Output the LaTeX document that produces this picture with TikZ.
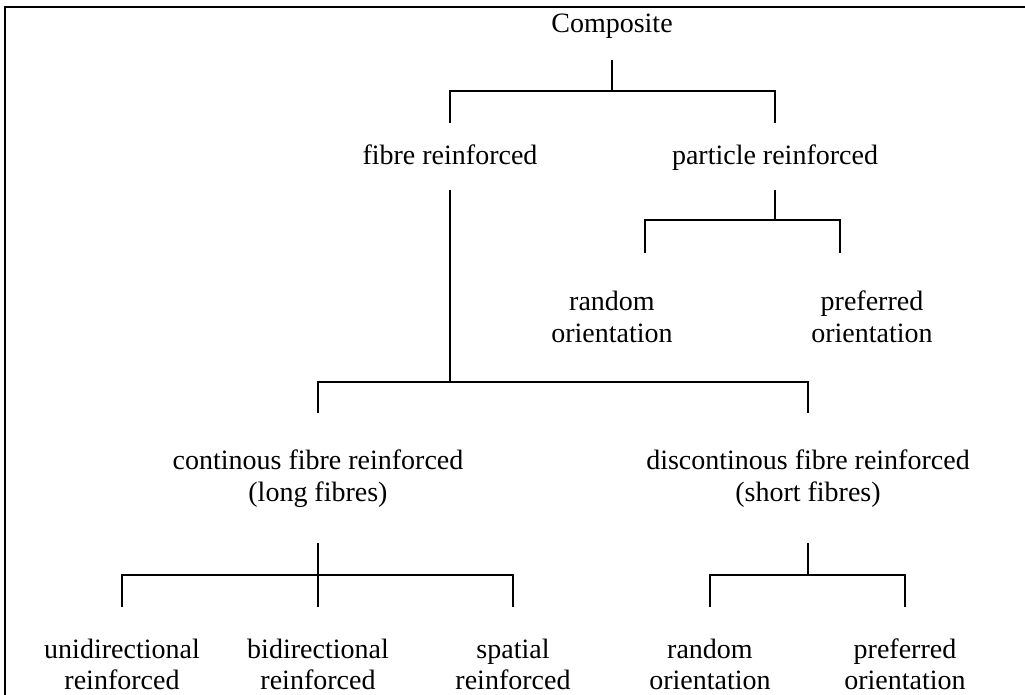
\documentclass[tikz,border=0pt]{standalone}
\usepackage{fontspec}
\setmainfont{Liberation Serif}
\usetikzlibrary{calc}
\begin{document}
\begin{tikzpicture}[x=0.5pt,y=-0.5pt,
  lbl/.style={inner sep=0pt,outer sep=0pt,anchor=base,align=center,
    font=\fontsize{14pt}{16pt}\selectfont},
  conn/.style={line width=0.65pt},
  frame/.style={line width=1pt}]
\useasboundingbox (0,0) rectangle (1025,695);
\fill[white] (-10,-10) rectangle (1035,705);
% frame (top and left edges)
\draw[frame] (5,705) -- (5,6.7) -- (1035,6.7);
% nodes (base anchor = baseline of the last line)
\node[lbl] (comp)     at (612,33)  {Composite};
\node[lbl] (fibre)    at (450,165) {fibre reinforced};
\node[lbl] (particle) at (775,165) {particle reinforced};
\node[lbl] (rand1)    at (612,343) {random\\orientation};
\node[lbl] (pref1)    at (872,343) {preferred\\orientation};
\node[lbl] (cont)     at (318,502) {continous fibre reinforced\\(long fibres)};
\node[lbl] (discont)  at (808,502) {discontinous fibre reinforced\\(short fibres)};
\node[lbl] (uni)      at (122,690) {unidirectional\\reinforced};
\node[lbl] (bi)       at (318,690) {bidirectional\\reinforced};
\node[lbl] (spa)      at (513,690) {spatial\\reinforced};
\node[lbl] (rand2)    at (710,690) {random\\orientation};
\node[lbl] (pref2)    at (905,690) {preferred\\orientation};
% junctions
\coordinate (j1) at (612,91);
\coordinate (j2) at (450,382);
\coordinate (j3) at (775,220);
\coordinate (j4) at (318,575);
\coordinate (j5) at (808,575);
% connectors
\draw[conn] (comp.base) ++(0,27) -- (j1);
\draw[conn] (j1) -| ($(fibre.base)+(0,-42)$);
\draw[conn] (j1) -| ($(particle.base)+(0,-42)$);
\draw[conn] (particle.base) ++(0,25) -- (j3);
\draw[conn] (j3) -| ($(rand1.base)+(33,-90)$);
\draw[conn] (j3) -| ($(pref1.base)+(-32,-90)$);
\draw[conn] (fibre.base) ++(0,25) -- (j2);
\draw[conn] (j2) -| ($(cont.base)+(0,-89)$);
\draw[conn] (j2) -| ($(discont.base)+(0,-89)$);
\draw[conn] (cont.base) ++(0,41) -- (j4);
\draw[conn] (j4) -| ($(uni.base)+(0,-83)$);
\draw[conn] (j4) -- ($(bi.base)+(0,-83)$);
\draw[conn] (j4) -| ($(spa.base)+(0,-83)$);
\draw[conn] (discont.base) ++(0,41) -- (j5);
\draw[conn] (j5) -| ($(rand2.base)+(0,-83)$);
\draw[conn] (j5) -| ($(pref2.base)+(0,-83)$);
\end{tikzpicture}
\end{document}
